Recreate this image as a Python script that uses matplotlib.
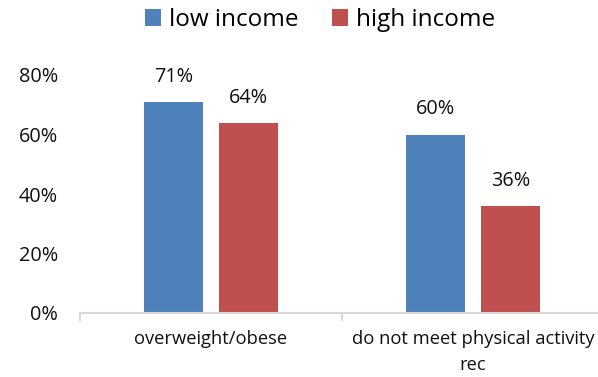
import matplotlib.pyplot as plt
import numpy as np

categories = ["overweight/obese", "do not meet physical activity\nrec"]
series_names = ["low income", "high income"]
low_income = [0.71, 0.60]
high_income = [0.64, 0.36]
y_ticks = [0.0, 0.2, 0.4, 0.6, 0.8]

BLUE = "#4F81BD"
RED = "#C0504D"
AXIS_GRAY = "#D9D9D9"

plt.rcParams["font.family"] = ["Open Sans", "DejaVu Sans"]

fig = plt.figure(figsize=(5.98, 3.77), dpi=100)
ax = fig.add_axes([80 / 598, 64 / 377, 524 / 598, 238 / 377])

x = np.arange(len(categories))
width = 0.225
offset = 0.142

bars_low = ax.bar(x - offset, low_income, width, color=BLUE, label=series_names[0])
bars_high = ax.bar(x + offset, high_income, width, color=RED, label=series_names[1])

for bars in (bars_low, bars_high):
    for b in bars:
        ax.annotate(f"{b.get_height() * 100:.0f}%",
                    (b.get_x() + b.get_width() / 2, b.get_height()),
                    xytext=(0, 18), textcoords="offset points",
                    ha="center", va="center", fontsize=14.3, color="#111111")

ax.set_xlim(-0.5, len(categories) - 0.5)
ax.set_ylim(0, 0.8)
ax.set_yticks(y_ticks)
ax.set_yticklabels([f"{v * 100:.0f}%" for v in y_ticks], fontsize=14.3, color="#111111")
ax.tick_params(axis="y", length=0, pad=16)

# category separators as major ticks, names on minor ticks
ax.set_xticks(np.arange(len(categories) + 1) - 0.5)
ax.set_xticklabels([])
ax.set_xticks(x, minor=True)
ax.set_xticklabels(categories, minor=True, fontsize=13.2, color="#111111", linespacing=1.6)
ax.tick_params(axis="x", which="major", length=6, width=1.5, color=AXIS_GRAY)
ax.tick_params(axis="x", which="minor", length=0, pad=12)

for side in ("left", "right", "top"):
    ax.spines[side].set_visible(False)
ax.spines["bottom"].set_color(AXIS_GRAY)
ax.spines["bottom"].set_linewidth(1.5)

fig.legend(loc="center", bbox_to_anchor=(320 / 598, 1 - 20 / 377), ncol=2,
           frameon=False, fontsize=17.5, handlelength=0.66, handleheight=0.66,
           handletextpad=0.33, columnspacing=1.36, borderpad=0)

fig.savefig("out.png", dpi=100)
